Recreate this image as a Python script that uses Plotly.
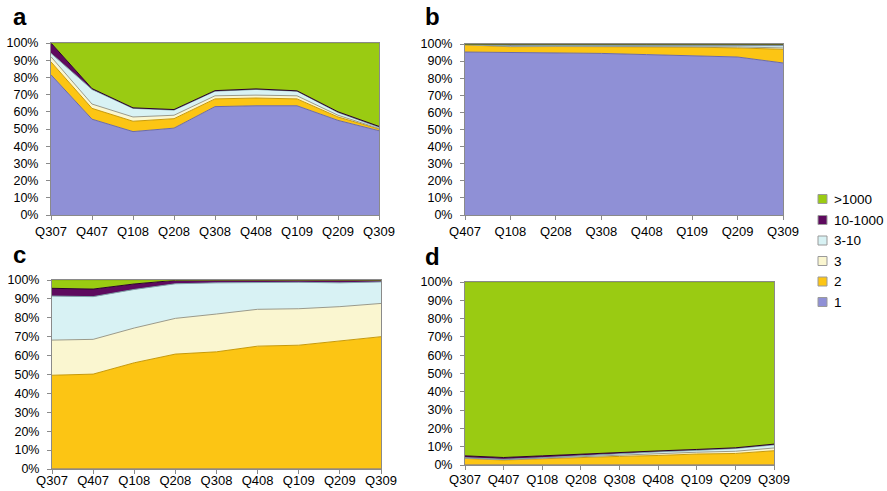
import plotly.graph_objects as go

series_names = ["1", "2", "3", "3-10", "10-1000", ">1000"]
fill_colors = ["#8f90d6", "#fcc514", "#faf6d0", "#d8f2f4", "#5e0a5e", "#9acb12"]
line_colors = ["#6a6aa8", "#c79a0a", "#9a9a8a", "#7fa3a8", "#2a002a", "#86b010"]

quarters_full = ["Q307", "Q407", "Q108", "Q208", "Q308", "Q408", "Q109", "Q209", "Q309"]
quarters_b = ["Q407", "Q108", "Q208", "Q308", "Q408", "Q109", "Q209", "Q309"]

# Panel a (percent shares per layer)
a_1 = [81.5, 55.7, 48.5, 50.5, 63.0, 63.5, 63.5, 55.0, 49.0]
a_2 = [7.5, 6.3, 6.0, 5.5, 4.5, 4.5, 4.0, 2.0, 1.0]
a_3 = [3.0, 2.5, 2.5, 2.0, 1.8, 1.7, 1.8, 1.0, 0.3]
a_310 = [2.0, 8.5, 5.0, 3.0, 2.7, 3.3, 2.7, 1.6, 0.7]
a_101000 = [6.0, 0.5, 0.3, 0.3, 0.3, 0.3, 0.2, 0.4, 0.5]
a_1000 = [0.0, 26.5, 37.7, 38.7, 27.7, 26.7, 27.8, 40.0, 48.5]

# Panel b
b_1 = [95.3, 95.1, 95.0, 94.5, 93.8, 93.2, 92.4, 88.9]
b_2 = [4.2, 3.3, 3.5, 4.0, 4.5, 5.0, 5.3, 8.0]
b_3 = [0.1, 0.2, 0.2, 0.2, 0.3, 0.3, 0.6, 0.8]
b_310 = [0.1, 0.4, 0.4, 0.4, 0.5, 0.6, 1.0, 1.3]
b_101000 = [0.2, 0.8, 0.8, 0.8, 0.8, 0.8, 0.6, 0.8]
b_1000 = [0.1, 0.2, 0.1, 0.1, 0.1, 0.1, 0.1, 0.2]

# Panel c
c_1 = [0, 0, 0, 0, 0, 0, 0, 0, 0]
c_2 = [49.6, 50.2, 56.2, 60.8, 62.0, 65.0, 65.5, 67.8, 70.0]
c_3 = [18.6, 18.4, 18.4, 18.9, 20.0, 19.5, 19.3, 18.1, 17.6]
c_310 = [23.3, 22.6, 20.4, 18.3, 16.5, 14.1, 14.0, 12.6, 11.4]
c_101000 = [4.1, 4.0, 2.9, 1.8, 1.5, 1.4, 1.2, 1.5, 1.0]
c_1000 = [4.4, 4.8, 2.1, 0.2, 0, 0, 0, 0, 0]

# Panel d
d_1 = [0, 0, 0, 0, 0, 0, 0, 0, 0]
d_2 = [3.6, 2.7, 3.4, 4.2, 4.7, 5.2, 6.0, 6.3, 7.8]
d_3 = [0.2, 0.2, 0.3, 0.4, 0.6, 0.8, 1.0, 1.2, 1.5]
d_310 = [0.2, 0.2, 0.3, 0.6, 1.0, 1.2, 1.0, 1.5, 1.7]
d_101000 = [1.0, 1.0, 1.0, 0.8, 0.6, 0.5, 0.5, 0.4, 0.4]
d_1000 = [95.0, 95.9, 95.0, 94.0, 93.1, 92.3, 91.5, 90.6, 88.6]

panels = [
    ("a", quarters_full, [a_1, a_2, a_3, a_310, a_101000, a_1000]),
    ("b", quarters_b, [b_1, b_2, b_3, b_310, b_101000, b_1000]),
    ("c", quarters_full, [c_1, c_2, c_3, c_310, c_101000, c_1000]),
    ("d", quarters_full, [d_1, d_2, d_3, d_310, d_101000, d_1000]),
]

W, H = 887, 491
# pixel boxes (left, right, top, bottom)
boxes = [(51, 379, 43, 215), (465, 783, 44, 215), (52, 381, 280, 469), (465, 774, 282, 465)]
label_pos = [(11, 32), (423, 32), (11, 270), (423, 272)]
x_standoff = [0, 0, -5, -2]

fig = go.Figure()
font_fam = "Liberation Sans, Arial, sans-serif"

for i, ((lab, xs, layers), (l, r, t, b)) in enumerate(zip(panels, boxes)):
    ax = "" if i == 0 else str(i + 1)
    for k, (name, vals) in enumerate(zip(series_names, layers)):
        fig.add_trace(go.Scatter(
            x=list(range(len(xs))), y=vals, name=name,
            mode="lines", stackgroup="s%d" % i,
            line=dict(color=line_colors[k], width=1),
            fillcolor=fill_colors[k],
            xaxis="x" + ax, yaxis="y" + ax,
            showlegend=False,
            hoverinfo="skip",
        ))
    xd = [l / W, r / W]
    yd = [1 - b / H, 1 - t / H]
    axis_common = dict(showline=True, linecolor="#8a8a8a", linewidth=1, mirror=True,
                       ticks="outside", ticklen=4, tickcolor="#8a8a8a",
                       showgrid=False, zeroline=False, automargin=False)
    fig.layout["xaxis" + ax] = dict(domain=xd, anchor="y" + ax, range=[0, len(xs) - 1],
                                    tickvals=list(range(len(xs))), ticktext=xs,
                                    tickfont=dict(family=font_fam, size=13, color="#000"),
                                    ticklabelstandoff=x_standoff[i],
                                    **axis_common)
    fig.layout["yaxis" + ax] = dict(domain=yd, anchor="x" + ax, range=[0, 100],
                                    tickvals=list(range(0, 101, 10)),
                                    ticktext=["%d%%" % v for v in range(0, 101, 10)],
                                    tickfont=dict(family=font_fam, size=12.5, color="#000"),
                                    ticklabelstandoff=5,
                                    **axis_common)
    lx, ly = label_pos[i]
    fig.add_annotation(text="<b>%s</b>" % lab, xref="paper", yref="paper",
                       x=lx / W, y=1 - ly / H,
                       xanchor="left", yanchor="bottom", showarrow=False,
                       font=dict(family=font_fam, size=24, color="#000"))

# Manual legend (top entry first): >1000 ... 1
legend_centers = [199, 220, 240.5, 261, 281.5, 302]
for j, k in enumerate(range(len(series_names) - 1, -1, -1)):
    cy = legend_centers[j]
    fig.add_shape(type="rect", xref="paper", yref="paper",
                  x0=818 / W, x1=827 / W, y0=1 - (cy + 4.5) / H, y1=1 - (cy - 4.5) / H,
                  fillcolor=fill_colors[k], line=dict(color="#9a9a9a", width=1))
    fig.add_annotation(text=series_names[k], xref="paper", yref="paper",
                       x=832 / W, y=1 - cy / H, xanchor="left", yanchor="middle",
                       showarrow=False, font=dict(family=font_fam, size=13.5, color="#000"))

fig.update_layout(
    template="none",
    width=W, height=H, margin=dict(l=0, r=0, t=0, b=0, autoexpand=False),
    paper_bgcolor="white", plot_bgcolor="white",
    showlegend=False,
)

fig.write_html("out.html")
